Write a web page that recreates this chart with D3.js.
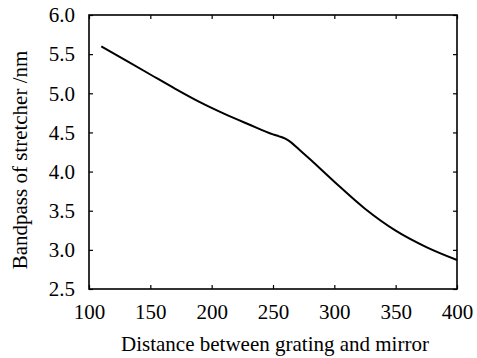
<!DOCTYPE html>
<html>
<head>
<meta charset="utf-8">
<script src="https://cdn.jsdelivr.net/npm/d3@7"></script>
<style>
  body { margin: 0; background: #fff; }
  text { font-family: "Liberation Serif", "DejaVu Serif", serif; fill: #000; }
</style>
</head>
<body>
<svg width="477" height="358"></svg>
<script>
// distance between grating and mirror
var distance = [110, 130, 150, 170, 190, 210, 230, 250, 255, 260, 265, 270, 280, 300, 325, 350, 375, 400];
// bandpass of stretcher (nm)
var bandpass = [5.60, 5.42, 5.24, 5.06, 4.89, 4.74, 4.605, 4.475, 4.45, 4.42, 4.37, 4.30, 4.16, 3.87, 3.525, 3.245, 3.035, 2.87];
var xTicks = [100, 150, 200, 250, 300, 350, 400];
var yTicks = [2.5, 3.0, 3.5, 4.0, 4.5, 5.0, 5.5, 6.0];

var svg = d3.select("svg");
var mLeft = 89, mRight = 457, mTop = 15, mBottom = 289;

var x = d3.scaleLinear().domain([100, 400]).range([mLeft, mRight]);
var y = d3.scaleLinear().domain([2.5, 6.0]).range([mBottom, mTop]);

var fmt = d3.format(".1f");

// bottom axis (labels, ticks pointing in)
svg.append("g")
  .attr("transform", "translate(0," + mBottom + ")")
  .call(d3.axisBottom(x).tickValues(xTicks).tickSizeInner(-4).tickSizeOuter(0).tickPadding(15))
  .call(g => g.select(".domain").remove())
  .selectAll("text").style("font-size", "21px");

// top mirrored ticks
svg.append("g")
  .attr("transform", "translate(0," + mTop + ")")
  .call(d3.axisTop(x).tickValues(xTicks).tickSizeInner(-4).tickSizeOuter(0).tickFormat(""))
  .call(g => g.select(".domain").remove());

// left axis
svg.append("g")
  .attr("transform", "translate(" + mLeft + ",0)")
  .call(d3.axisLeft(y).tickValues(yTicks).tickFormat(fmt).tickSizeInner(-4).tickSizeOuter(0).tickPadding(14))
  .call(g => g.select(".domain").remove())
  .selectAll("text").style("font-size", "21px");

// right mirrored ticks
svg.append("g")
  .attr("transform", "translate(" + mRight + ",0)")
  .call(d3.axisRight(y).tickValues(yTicks).tickSizeInner(-4).tickSizeOuter(0).tickFormat(""))
  .call(g => g.select(".domain").remove());

svg.selectAll(".tick line").attr("stroke", "#000").attr("stroke-width", 1.2);

// frame
svg.append("rect")
  .attr("x", mLeft).attr("y", mTop)
  .attr("width", mRight - mLeft).attr("height", mBottom - mTop)
  .attr("fill", "none").attr("stroke", "#000").attr("stroke-width", 1.6);

var line = d3.line()
  .x((d, i) => x(distance[i]))
  .y(d => y(d))
  .curve(d3.curveMonotoneX);

svg.append("path")
  .datum(bandpass)
  .attr("d", line)
  .attr("fill", "none")
  .attr("stroke", "#000")
  .attr("stroke-width", 2);

svg.append("text")
  .attr("x", (mLeft + mRight) / 2 + 2)
  .attr("y", 351)
  .attr("text-anchor", "middle")
  .style("font-size", "21px")
  .text("Distance between grating and mirror");

svg.append("text")
  .attr("transform", "translate(27," + 160 + ") rotate(-90)")
  .attr("text-anchor", "middle")
  .style("font-size", "21px")
  .text("Bandpass of stretcher /nm");
</script>
</body>
</html>
